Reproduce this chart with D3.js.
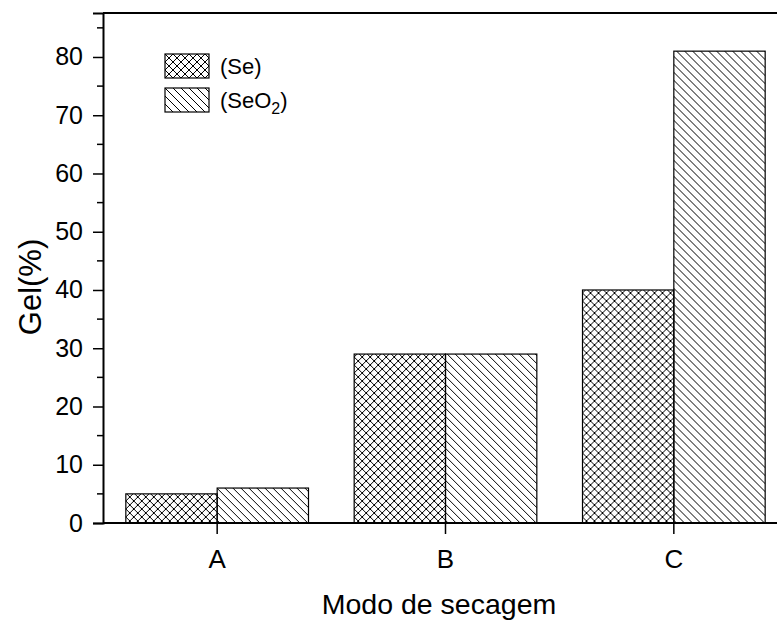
<!DOCTYPE html>
<html>
<head>
<meta charset="utf-8">
<script src="https://cdn.jsdelivr.net/npm/d3@7"></script>
<style>
  body { margin: 0; background: #fff; }
  svg { display: block; font-family: "Liberation Sans", Arial, sans-serif; }
</style>
</head>
<body>
<div class="chart"></div>
<script>
// data
const categories = ["A", "B", "C"];
const seriesNames = ["(Se)", "(SeO2)"];
const seValues = [5, 29, 40];
const seo2Values = [6, 29, 81];
const yTicks = [0, 10, 20, 30, 40, 50, 60, 70, 80];
const yMinorTicks = [5, 15, 25, 35, 45, 55, 65, 75, 85];

const W = 777, H = 621;
const margin = {top: 13, left: 103, right: -11, bottom: 98};
const width = W - margin.left - margin.right;
const height = H - margin.top - margin.bottom;

const svg = d3.select(".chart").append("svg")
    .attr("width", W)
    .attr("height", H);

// hatch patterns
const defs = svg.append("defs");
const cross = defs.append("pattern")
    .attr("id", "cross")
    .attr("patternUnits", "userSpaceOnUse")
    .attr("width", 8).attr("height", 8);
cross.append("path")
    .attr("d", "M0,0L8,8M-2,6L2,10M6,-2L10,2M0,8L8,0M-2,2L2,-2M6,10L10,6")
    .attr("stroke", "#000").attr("stroke-width", 1).attr("fill", "none");

const diag = defs.append("pattern")
    .attr("id", "diag")
    .attr("patternUnits", "userSpaceOnUse")
    .attr("width", 8).attr("height", 8);
diag.append("path")
    .attr("d", "M0,0L8,8M-2,6L2,10M6,-2L10,2")
    .attr("stroke", "#000").attr("stroke-width", 1).attr("fill", "none");

const fills = ["url(#cross)", "url(#diag)"];

const g = svg.append("g")
    .attr("transform", `translate(${margin.left},${margin.top})`);

// scales
const xScale = d3.scaleBand()
    .domain(categories)
    .range([0, width])
    .paddingInner(0.2)
    .paddingOuter(0.1);

const xSub = d3.scaleBand()
    .domain(seriesNames)
    .range([0, xScale.bandwidth()]);

const yScale = d3.scaleLinear()
    .domain([0, 87.55])
    .range([height, 0]);

const table = categories.map((c, i) => ({cat: c, vals: [seValues[i], seo2Values[i]]}));

// bars
const groups = g.selectAll(".grp")
    .data(table)
    .join("g")
    .attr("class", "grp")
    .attr("transform", d => `translate(${xScale(d.cat)},0)`);

groups.selectAll("rect")
    .data(d => d.vals.map((v, j) => ({name: seriesNames[j], v: v, j: j})))
    .join("rect")
    .attr("x", d => xSub(d.name))
    .attr("y", d => yScale(d.v))
    .attr("width", xSub.bandwidth())
    .attr("height", d => height - yScale(d.v))
    .attr("fill", d => fills[d.j])
    .attr("stroke", "#000")
    .attr("stroke-width", 1.2);

// frame top
g.append("line")
    .attr("x1", 0).attr("x2", width)
    .attr("y1", 0).attr("y2", 0)
    .attr("stroke", "#000").attr("stroke-width", 2);

// axes
const yAxis = d3.axisLeft(yScale)
    .tickValues(yTicks)
    .tickSize(10)
    .tickPadding(10);

const yAx = g.append("g")
    .attr("class", "axis y-axis")
    .call(yAxis);

yAx.select(".domain").attr("stroke-width", 2);
yAx.selectAll(".tick line").attr("stroke-width", 1.5);
yAx.selectAll("text")
    .attr("font-size", 25)
    .attr("font-family", "Liberation Sans, Arial, sans-serif")
    .attr("fill", "#000");

g.append("g")
    .selectAll("line")
    .data(yMinorTicks)
    .join("line")
    .attr("x1", -6).attr("x2", 0)
    .attr("y1", d => yScale(d)).attr("y2", d => yScale(d))
    .attr("stroke", "#000").attr("stroke-width", 1.5);

const xAxis = d3.axisBottom(xScale)
    .tickSize(11)
    .tickPadding(16);

const xAx = g.append("g")
    .attr("class", "axis x-axis")
    .attr("transform", `translate(0,${height})`)
    .call(xAxis);

xAx.select(".domain").attr("stroke-width", 2).attr("d", `M0,0H${width}`);
xAx.selectAll(".tick line").attr("stroke-width", 1.5);
xAx.selectAll("text")
    .attr("font-size", 26)
    .attr("font-family", "Liberation Sans, Arial, sans-serif")
    .attr("fill", "#000");

// axis labels
svg.append("text")
    .attr("x", 439)
    .attr("y", 614)
    .attr("text-anchor", "middle")
    .attr("font-size", 28.5)
    .text("Modo de secagem");

svg.append("text")
    .attr("transform", "translate(41,287) rotate(-90)")
    .attr("text-anchor", "middle")
    .attr("font-size", 31)
    .text("Gel(%)");

// legend
const legend = svg.append("g")
    .attr("transform", "translate(165,54)");

const items = legend.selectAll("g")
    .data(seriesNames)
    .join("g")
    .attr("transform", (d, i) => `translate(0,${i * 34})`);

items.append("rect")
    .attr("width", 44).attr("height", 24)
    .attr("fill", (d, i) => fills[i])
    .attr("stroke", "#000").attr("stroke-width", 1.2);

const labels = items.append("text")
    .attr("x", 55).attr("y", 20)
    .attr("font-size", 22);

labels.filter((d, i) => i === 0).text(d => d);
labels.filter((d, i) => i === 1).each(function() {
    const t = d3.select(this);
    t.append("tspan").text("(SeO");
    t.append("tspan").attr("dy", 6).attr("font-size", 16).text("2");
    t.append("tspan").attr("dy", -6).text(")");
});
</script>
</body>
</html>
